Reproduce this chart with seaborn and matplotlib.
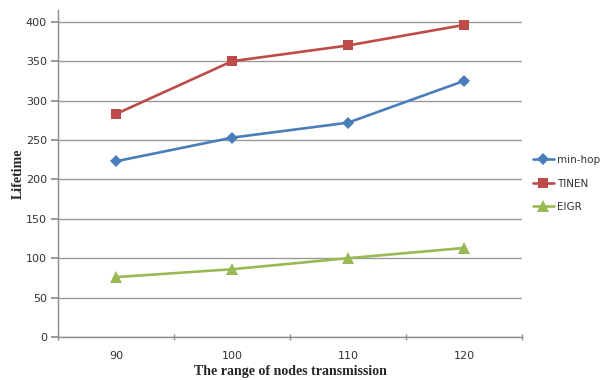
import matplotlib
matplotlib.use("Agg")
import matplotlib.pyplot as plt
import seaborn as sns
import pandas as pd
from matplotlib.ticker import FixedLocator

categories = ["90", "100", "110", "120"]
min_hop = [223, 253, 272, 325]
tinen = [283, 350, 370, 396]
eigr = [76, 86, 100, 113]
series_names = ["min-hop", "TINEN", "EIGR"]
yticks = [0, 50, 100, 150, 200, 250, 300, 350, 400]

rows = []
for name, vals in zip(series_names, [min_hop, tinen, eigr]):
    for c, v in zip(categories, vals):
        rows.append({"range": c, "Lifetime": v, "series": name})
df = pd.DataFrame(rows)

sns.set_theme(style="white")
plt.rcParams['font.family'] = ['DejaVu Sans']

fig = plt.figure(figsize=(6.07, 3.80), dpi=100)
ax = fig.add_axes([58/607, 1-337/380, (522-58)/607, (337-10)/380])

palette = {"min-hop": "#4A7EBB", "TINEN": "#BE4B48", "EIGR": "#98B954"}
markers = {"min-hop": "D", "TINEN": "s", "EIGR": "^"}
sizes_m = {"min-hop": 6, "TINEN": 7.5, "EIGR": 8.5}

for name in series_names:
    sub = df[df["series"] == name]
    sns.lineplot(data=sub, x="range", y="Lifetime", ax=ax, color=palette[name],
                 marker=markers[name], markersize=sizes_m[name], linewidth=1.9,
                 markeredgewidth=0, label=name, sort=False)

ax.set_xlim(-0.5, 3.5)
ax.set_ylim(0, 415)
ax.set_yticks(yticks)
ax.yaxis.grid(True, color="#9a9a9a", linewidth=1.0)
ax.xaxis.grid(False)
ax.set_xticks(range(len(categories)))
ax.set_xticklabels(categories)
ax.xaxis.set_minor_locator(FixedLocator([-0.5, 0.5, 1.5, 2.5, 3.5]))
ax.tick_params(axis="x", which="major", length=0, pad=10, labelsize=8, labelcolor="#333333")
ax.tick_params(axis="x", which="minor", length=5, direction="inout", color="#8c8c8c", bottom=True)
ax.tick_params(axis="y", which="major", length=5, direction="out", color="#8c8c8c", left=True,
               labelsize=8, labelcolor="#333333", pad=3)

for s in ["top", "right"]:
    ax.spines[s].set_visible(False)
for s in ["left", "bottom"]:
    ax.spines[s].set_color("#8c8c8c")
    ax.spines[s].set_linewidth(1.0)

ax.set_xlabel("The range of nodes transmission", family="Liberation Serif",
              fontweight="bold", fontsize=10, labelpad=3)
ax.set_ylabel("Lifetime", family="Liberation Serif", fontweight="bold",
              fontsize=10, labelpad=1)

leg = ax.legend(loc="upper left", bbox_to_anchor=(533/607, 1-155/380),
                bbox_transform=fig.transFigure, frameon=False, fontsize=7.5,
                handlelength=2.0, handletextpad=0.3, labelspacing=1.3,
                borderaxespad=0, borderpad=0)
for t in leg.get_texts():
    t.set_color("#333333")

fig.savefig("out.png", dpi=100)
